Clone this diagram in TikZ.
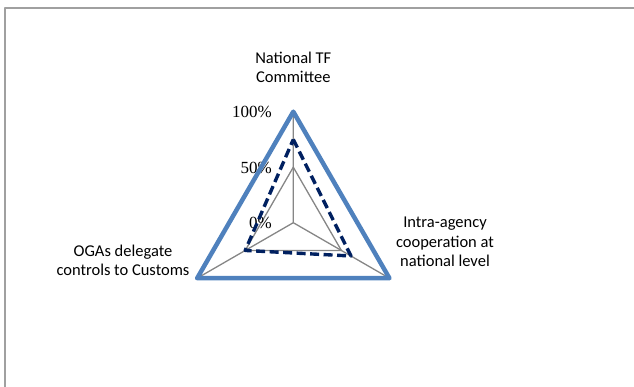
\documentclass[tikz,border=0pt]{standalone}
\usepackage{fontspec}
\setmainfont{Carlito}
\newfontfamily\pctfont{Liberation Serif}
\definecolor{serblue}{RGB}{79,129,189}
\definecolor{sernavy}{RGB}{0,32,96}
\definecolor{gridgray}{RGB}{134,134,134}
\definecolor{framegray}{RGB}{160,160,160}
\begin{document}
\begin{tikzpicture}[x=1pt,y=1pt,line join=round,font=\fontsize{16.5}{19.6}\selectfont,
	gridline/.style={gridgray,line width=1.3},
	fullline/.style={serblue,line width=4.5},
	dashline/.style={sernavy,line width=3.4,dash pattern=on 9 off 4.5},
	axlabel/.style={align=center,inner sep=0,anchor=base},
	pct/.style={font=\pctfont\fontsize{17}{20}\selectfont,inner sep=0,anchor=base east}]
	\def\R{111} \def\a{0.75} \def\b{0.6} \def\c{0.5}
	\useasboundingbox (-293.3,-163.3) rectangle (340.7,222.7);
	\clip (-293.3,-163.3) rectangle (340.7,222.7);
	\draw[framegray,line width=2] (-288.3,-170)--(-288.3,214.5)--(350,214.5);
	\coordinate (O) at (0,0);
	\coordinate (A) at (90:\R);
	\coordinate (B) at (-30:\R);
	\coordinate (C) at (210:\R);
	\draw[gridline] (O)--(A) (O)--(B) (O)--(C);
	\draw[gridline] (90:{\R/2})--(-30:{\R/2})--(210:{\R/2})--cycle;
	\foreach \v/\t/\n in {1/100\%/hi,0.5/50\%/mid,0/0\%/lo}
		\node[pct] (pct\n) at (-21.3,{\v*\R-5.8}) {\t};
	\draw[fullline] (A)--(B)--(C)--cycle;
	\draw[dashline] (90:{\a*\R})--(-30:{\b*\R})--(210:{\c*\R})--cycle;
	\node[axlabel] (nat) at (0,140) {National TF\\Committee};
	\node[axlabel] (ogas) at (-170.3,-53) {OGAs delegate\\controls to Customs};
	\node[axlabel] (intra) at (151.7,-44) {Intra-agency\\cooperation at\\national level};
\end{tikzpicture}
\end{document}
